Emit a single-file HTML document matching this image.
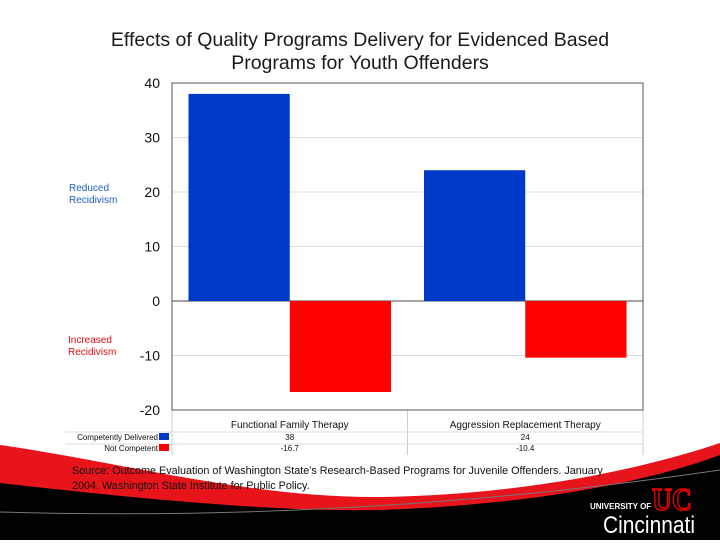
<!DOCTYPE html>
<html><head><meta charset="utf-8"><style>
body{margin:0;background:#fff;width:720px;height:540px;overflow:hidden;font-family:"Liberation Sans",sans-serif}
</style></head><body>
<svg width="720" height="540" xmlns="http://www.w3.org/2000/svg" font-family="Liberation Sans, sans-serif">
<path d="M0,445 C120,462 250,498 380,497 C520,495 640,470 720,443 L720,540 L0,540 Z" fill="#e8141c"/>
<path d="M0,483 C150,500 280,512 380,510 C520,505 640,485 720,455 L720,540 L0,540 Z" fill="#000"/>
<path d="M0,512 C200,518 450,510 720,470" stroke="#777" stroke-width="1" fill="none"/>
<text x="360" y="46" text-anchor="middle" font-size="19.5" fill="#1a1a1a">Effects of Quality Programs Delivery for Evidenced Based</text>
<text x="360" y="69" text-anchor="middle" font-size="19.5" fill="#1a1a1a">Programs for Youth Offenders</text>
<g font-size="10" fill="#2060c0"><text x="69" y="191">Reduced</text><text x="69" y="203">Recidivism</text></g>
<g font-size="10" fill="#e01010"><text x="68" y="343">Increased</text><text x="68" y="355">Recidivism</text></g>
<g id="grid"></g><g id="axis"></g><g id="bars"></g><g id="table"></g>
<rect x="172" y="83" width="471" height="327" fill="none" stroke="#555" stroke-width="1"/>
<g font-size="10.8" fill="#111">
<text x="72" y="474">Source: Outcome Evaluation of Washington State's Research-Based Programs for Juvenile Offenders. January</text>
<text x="72" y="489">2004. Washington State Institute for Public Policy.</text></g>
<g>
<text x="590" y="509" font-size="8" font-weight="bold" fill="#fff">UNIVERSITY OF</text>
<text x="603" y="533" font-size="24" fill="#fff" textLength="92" lengthAdjust="spacingAndGlyphs">Cincinnati</text>
<text x="652" y="510" font-size="32" font-weight="bold" fill="none" stroke="#e00" stroke-width="1.5" font-family="Liberation Serif, serif" textLength="40" lengthAdjust="spacingAndGlyphs">UC</text>
</g>
</svg>
<script>
const categories=["Functional Family Therapy","Aggression Replacement Therapy"];
const competent=[38,24];
const notCompetent=[-16.7,-10.4];
const ticks=[40,30,20,10,0,-10,-20];
const ns="http://www.w3.org/2000/svg";
const x0=172,x1=643,yTop=83,yBot=410,vMax=40,vMin=-20;
const y=v=>yTop+(vMax-v)/(vMax-vMin)*(yBot-yTop);
const cw=(x1-x0)/categories.length;
function mk(t,a,p,txt){const e=document.createElementNS(ns,t);for(const k in a)e.setAttribute(k,a[k]);if(txt!==undefined)e.textContent=txt;document.getElementById(p).appendChild(e);return e;}
ticks.forEach(t=>{
  const l=mk('line',{x1:x0,x2:x1,y1:y(t),y2:y(t),stroke:t===0?'#444':'#ddd','stroke-width':1},'grid');
  
  
  const tx=mk('text',{x:160,y:y(t)+5,'text-anchor':'end','font-size':14,fill:'#111'},'axis',String(t));
  
  
});
const bw=cw*0.43,off=cw*0.07;
categories.forEach((c,i)=>{
  const cx=x0+i*cw;
  const b=mk('rect',{x:cx+off,y:y(competent[i]),width:bw,height:y(0)-y(competent[i]),fill:'#0038c8'},'bars');
  
  
  const r=mk('rect',{x:cx+off+bw,y:y(0),width:bw,height:y(notCompetent[i])-y(0),fill:'#ff0000'},'bars');
  
  
  const h=mk('text',{x:cx+cw/2,y:428,'text-anchor':'middle','font-size':10,fill:'#111'},'table',c);
  
  
  const v1=mk('text',{x:cx+cw/2,y:440,'text-anchor':'middle','font-size':8,fill:'#111'},'table',String(competent[i]));
  
  
  const v2=mk('text',{x:cx+cw/2,y:451,'text-anchor':'middle','font-size':8,fill:'#111'},'table',String(notCompetent[i]));
  
  
});
[[x0,x0],[x0+cw,x0+cw],[x1,x1]].forEach(p=>{const l=mk('line',{x1:p[0],x2:p[1],y1:410,y2:455,stroke:'#ccc'},'table');});
[[65,432],[65,444]].forEach(p=>{const l=mk('line',{x1:p[0],x2:x1,y1:p[1],y2:p[1],stroke:'#ddd'},'table');});
const lg1=mk('text',{x:158,y:440,'text-anchor':'end','font-size':8,fill:'#111'},'table','Competently Delivered');


const lg2=mk('text',{x:158,y:451,'text-anchor':'end','font-size':8,fill:'#111'},'table','Not Competent');


const s1=mk('rect',{x:159,y:433,width:10,height:7,fill:'#0038c8'},'table');


const s2=mk('rect',{x:159,y:444,width:10,height:7,fill:'#ff0000'},'table');


</script>
</body></html>
